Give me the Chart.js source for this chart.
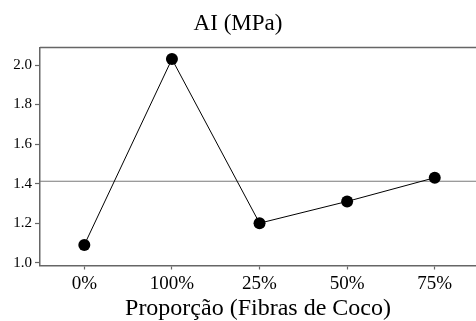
<!DOCTYPE html>
<html>
<head>
<meta charset="utf-8">
<script src="https://cdn.jsdelivr.net/npm/chart.js@4/dist/chart.umd.min.js"></script>
<style>
  html, body { margin: 0; padding: 0; background: #fff; }
</style>
</head>
<body>
<canvas id="grafico" width="476" height="321"></canvas>
<script>
// Datos
const categorias = ['0%', '100%', '25%', '50%', '75%'];
const valoresAI = [1.09, 2.03, 1.20, 1.31, 1.43];
const ticksY = [1.0, 1.2, 1.4, 1.6, 1.8, 2.0];

// Línea de la media
const media = valoresAI.reduce((acc, v) => acc + v, 0) / valoresAI.length;

const colorMarco = '#666666';
const fuente = '"Liberation Serif", "Times New Roman", serif';

// Borde superior del área del gráfico y línea de la media
const marcoPlugin = {
    id: 'marco',
    beforeDatasetsDraw(chart) {
        const { ctx, chartArea, scales } = chart;
        const yMedia = scales.y.getPixelForValue(media);
        ctx.save();
        ctx.strokeStyle = '#7a7a7a';
        ctx.lineWidth = 1.2;
        ctx.beginPath();
        ctx.moveTo(chartArea.left, yMedia);
        ctx.lineTo(chartArea.right, yMedia);
        ctx.stroke();
        ctx.strokeStyle = colorMarco;
        ctx.lineWidth = 1.5;
        ctx.beginPath();
        ctx.moveTo(chartArea.left, chartArea.top);
        ctx.lineTo(chartArea.right, chartArea.top);
        ctx.stroke();
        ctx.restore();
    }
};

const puntos = valoresAI.map((v, i) => ({ x: i, y: v }));

new Chart(document.getElementById('grafico'), {
    type: 'line',
    data: {
        datasets: [{
            data: puntos,
            borderColor: '#000',
            borderWidth: 1,
            backgroundColor: '#000',
            pointRadius: 6,
            pointBorderWidth: 0,
            pointBackgroundColor: '#000',
            tension: 0
        }]
    },
    options: {
        responsive: false,
        animation: false,
        devicePixelRatio: 1,
        layout: { padding: 0, autoPadding: false },
        plugins: {
            legend: { display: false },
            tooltip: { enabled: false },
            title: {
                display: true,
                text: 'AI (MPa)',
                color: '#000',
                font: { family: fuente, size: 23, weight: 'normal' },
                padding: { top: 10, bottom: 10 }
            }
        },
        scales: {
            x: {
                type: 'linear',
                min: -0.506,
                max: 4.471,
                afterBuildTicks: (scale) => {
                    scale.ticks = categorias.map((_, i) => ({ value: i }));
                },
                afterFit: (scale) => {
                    scale.height = 55.5;
                    scale.paddingLeft = 0;
                    scale.paddingRight = 0;
                },
                ticks: {
                    color: '#000',
                    font: { family: fuente, size: 19 },
                    padding: 3,
                    maxRotation: 0,
                    autoSkip: false,
                    callback: (valor) => categorias[valor]
                },
                grid: {
                    drawOnChartArea: false,
                    color: colorMarco,
                    tickLength: 4,
                    tickWidth: 1.2
                },
                border: { display: true, color: colorMarco, width: 1.5 },
                title: {
                    display: true,
                    text: 'Proporção (Fibras de Coco)',
                    color: '#000',
                    font: { family: fuente, size: 24, lineHeight: 1.0 },
                    padding: 0
                }
            },
            y: {
                min: 0.986,
                max: 2.088,
                afterBuildTicks: (scale) => {
                    scale.ticks = ticksY.map(v => ({ value: v }));
                },
                afterFit: (scale) => {
                    scale.width = 40;
                    scale.paddingTop = 0;
                    scale.paddingBottom = 0;
                },
                ticks: {
                    color: '#000',
                    font: { family: fuente, size: 15 },
                    padding: 3,
                    callback: (valor) => valor.toFixed(1)
                },
                grid: {
                    drawOnChartArea: false,
                    color: colorMarco,
                    tickLength: 5,
                    tickWidth: 1.2
                },
                border: { display: true, color: colorMarco, width: 1.5 }
            }
        }
    },
    plugins: [marcoPlugin]
});
</script>
</body>
</html>
